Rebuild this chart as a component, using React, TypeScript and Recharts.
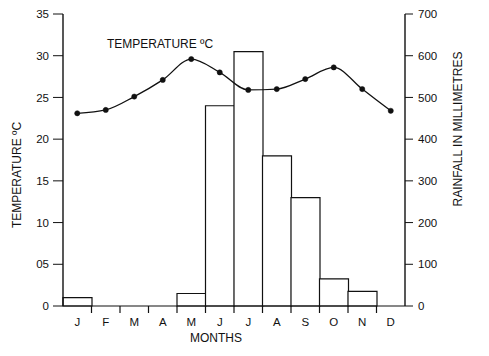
import { ComposedChart, Bar, Line, XAxis, YAxis } from "recharts";

const months = ["J", "F", "M", "A", "M", "J", "J", "A", "S", "O", "N", "D"];
const rainfall = [20, 0, 0, 0, 30, 480, 610, 360, 260, 65, 35, 0];
const temperature = [23.1, 23.5, 25.1, 27.1, 29.6, 28.0, 25.9, 26.0, 27.2, 28.6, 26.0, 23.4];
const tempTicks = [0, 5, 10, 15, 20, 25, 30, 35];
const rainTicks = [0, 100, 200, 300, 400, 500, 600, 700];

const W = 489;
const H = 356;
const LEFT_W = 63;
const RIGHT_W = 84;
const BAND = (W - LEFT_W - RIGHT_W) / months.length;
const FONT = "'Liberation Sans', Arial, sans-serif";

const data = months.map((m, i) => ({
  idx: i,
  month: m,
  rain: rainfall[i],
  temp: temperature[i],
}));

// month label at centre, small tick at the boundary on the right
function MonthTick(props: any) {
  const { x, y, payload } = props;
  const i = payload.value as number;
  return (
    <g>
      {i < months.length - 1 && (
        <line x1={x + BAND / 2} x2={x + BAND / 2} y1={y} y2={y + 7} stroke="#111" strokeWidth={1.2} />
      )}
      <text x={x} y={y + 20} textAnchor="middle" fontSize={11.5} fontFamily={FONT} fill="#111">
        {months[i]}
      </text>
    </g>
  );
}

const labelStyle = {
  position: "absolute" as const,
  fontSize: 12,
  fontFamily: FONT,
  color: "#111",
  whiteSpace: "nowrap" as const,
};

export default function App() {
  return (
    <div style={{ position: "absolute", left: 0, top: 0, width: W, height: H, background: "#fff" }}>
      <ComposedChart
        width={W}
        height={H}
        data={data}
        margin={{ top: 14, right: 0, bottom: 0, left: 0 }}
        barCategoryGap={0}
      >
        <XAxis
          dataKey="idx"
          type="category"
          height={50}
          tickSize={0}
          tickMargin={0}
          tickLine={false}
          axisLine={{ stroke: "#111", strokeWidth: 1.2 }}
          tick={<MonthTick />}
          interval={0}
        />
        <YAxis
          yAxisId="temp"
          orientation="left"
          width={LEFT_W}
          domain={[0, 35]}
          ticks={tempTicks}
          tickFormatter={(v: number) => (v === 5 ? "05" : String(v))}
          tickSize={10}
          tickMargin={4}
          axisLine={{ stroke: "#111", strokeWidth: 1.4 }}
          tickLine={{ stroke: "#111" }}
          tick={{ fontSize: 11.5, fontFamily: FONT, fill: "#111" }}
        />
        <YAxis
          yAxisId="rain"
          orientation="right"
          width={RIGHT_W}
          domain={[0, 700]}
          ticks={rainTicks}
          tickSize={8}
          tickMargin={5}
          axisLine={{ stroke: "#111", strokeWidth: 1.4 }}
          tickLine={{ stroke: "#111" }}
          tick={{ fontSize: 11.5, fontFamily: FONT, fill: "#111" }}
        />
        <Bar
          yAxisId="rain"
          dataKey="rain"
          fill="#fff"
          stroke="#111"
          strokeWidth={1.2}
          isAnimationActive={false}
        />
        <Line
          yAxisId="temp"
          dataKey="temp"
          type="monotone"
          stroke="#111"
          strokeWidth={1.3}
          dot={{ r: 2.6, fill: "#111", stroke: "#111", strokeWidth: 0.5 }}
          activeDot={false}
          isAnimationActive={false}
        />
      </ComposedChart>

      <div style={{ ...labelStyle, left: 107, top: 37 }}>TEMPERATURE ºC</div>
      <div
        style={{
          ...labelStyle,
          left: 17,
          top: 175,
          transform: "translate(-50%, -50%) rotate(-90deg)",
        }}
      >
        TEMPERATURE ºC
      </div>
      <div
        style={{
          ...labelStyle,
          left: 458,
          top: 129,
          transform: "translate(-50%, -50%) rotate(-90deg)",
        }}
      >
        RAINFALL IN MILLIMETRES
      </div>
      <div
        style={{
          ...labelStyle,
          left: 216,
          top: 338,
          transform: "translate(-50%, -50%)",
        }}
      >
        MONTHS
      </div>
    </div>
  );
}
